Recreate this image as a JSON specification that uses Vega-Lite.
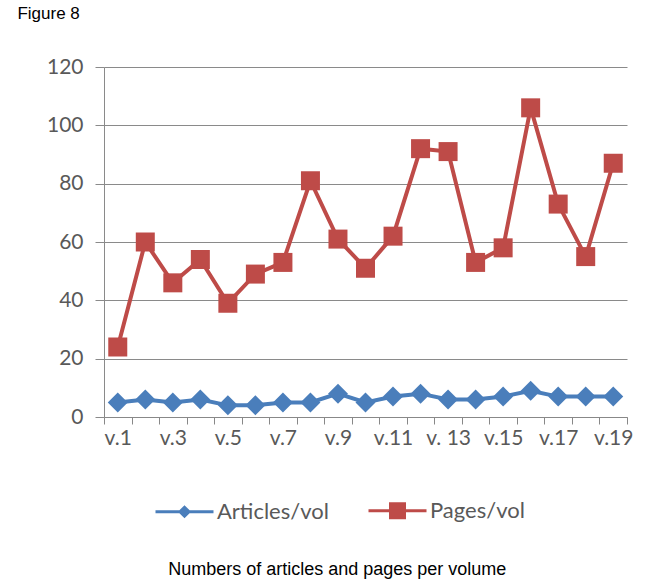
{
  "$schema": "https://vega.github.io/schema/vega-lite/v6.json",
  "padding": {"left": 17, "top": 5, "right": 5, "bottom": 5},
  "background": "white",
  "config": {"view": {"stroke": null}},
  "title": {"text": "Numbers of articles and pages per volume", "orient": "bottom", "anchor": "middle", "frame": "bounds", "font": "Liberation Sans", "fontSize": 18, "fontWeight": "normal", "color": "black", "offset": 37, "dx": 12},
  "data": {"values": [
    {"vol": "v.1", "series": "Articles/vol", "value": 5},
    {"vol": "v.2", "series": "Articles/vol", "value": 6},
    {"vol": "v.3", "series": "Articles/vol", "value": 5},
    {"vol": "v.4", "series": "Articles/vol", "value": 6},
    {"vol": "v.5", "series": "Articles/vol", "value": 4},
    {"vol": "v.6", "series": "Articles/vol", "value": 4},
    {"vol": "v.7", "series": "Articles/vol", "value": 5},
    {"vol": "v.8", "series": "Articles/vol", "value": 5},
    {"vol": "v.9", "series": "Articles/vol", "value": 8},
    {"vol": "v.10", "series": "Articles/vol", "value": 5},
    {"vol": "v.11", "series": "Articles/vol", "value": 7},
    {"vol": "v.12", "series": "Articles/vol", "value": 8},
    {"vol": "v. 13", "series": "Articles/vol", "value": 6},
    {"vol": "v.14", "series": "Articles/vol", "value": 6},
    {"vol": "v.15", "series": "Articles/vol", "value": 7},
    {"vol": "v.16", "series": "Articles/vol", "value": 9},
    {"vol": "v.17", "series": "Articles/vol", "value": 7},
    {"vol": "v.18", "series": "Articles/vol", "value": 7},
    {"vol": "v.19", "series": "Articles/vol", "value": 7},
    {"vol": "v.1", "series": "Pages/vol", "value": 24},
    {"vol": "v.2", "series": "Pages/vol", "value": 60},
    {"vol": "v.3", "series": "Pages/vol", "value": 46},
    {"vol": "v.4", "series": "Pages/vol", "value": 54},
    {"vol": "v.5", "series": "Pages/vol", "value": 39},
    {"vol": "v.6", "series": "Pages/vol", "value": 49},
    {"vol": "v.7", "series": "Pages/vol", "value": 53},
    {"vol": "v.8", "series": "Pages/vol", "value": 81},
    {"vol": "v.9", "series": "Pages/vol", "value": 61},
    {"vol": "v.10", "series": "Pages/vol", "value": 51},
    {"vol": "v.11", "series": "Pages/vol", "value": 62},
    {"vol": "v.12", "series": "Pages/vol", "value": 92},
    {"vol": "v. 13", "series": "Pages/vol", "value": 91},
    {"vol": "v.14", "series": "Pages/vol", "value": 53},
    {"vol": "v.15", "series": "Pages/vol", "value": 58},
    {"vol": "v.16", "series": "Pages/vol", "value": 106},
    {"vol": "v.17", "series": "Pages/vol", "value": 73},
    {"vol": "v.18", "series": "Pages/vol", "value": 55},
    {"vol": "v.19", "series": "Pages/vol", "value": 87}
  ]},
  "vconcat": [
    {
      "width": 523,
      "height": 350,
      "title": {"text": "Figure 8", "anchor": "start", "frame": "bounds", "font": "Liberation Sans", "fontSize": 17, "fontWeight": "normal", "color": "black", "dx": -29, "offset": 33},
      "encoding": {
        "x": {
          "field": "vol", "type": "ordinal", "sort": null,
          "scale": {"type": "band", "paddingInner": 0, "paddingOuter": 0},
          "axis": {
            "title": null, "labelAngle": 0, "tickBand": "extent", "grid": false,
            "labelExpr": "indexof(['v.1','v.3','v.5','v.7','v.9','v.11','v. 13','v.15','v.17','v.19'], datum.value) >= 0 ? datum.label : ''",
            "labelOverlap": false, "labelFont": "Lato", "labelFontSize": 21, "labelColor": "#595959",
            "labelPadding": 3, "domainColor": "#888888", "tickColor": "#888888", "tickSize": 7
          }
        },
        "y": {
          "field": "value", "type": "quantitative",
          "scale": {"domain": [0, 120], "nice": false},
          "axis": {
            "title": null, "values": [0, 20, 40, 60, 80, 100, 120], "grid": true,
            "gridColor": "#8a8a8a", "domainColor": "#8a8a8a", "tickColor": "#8a8a8a", "tickSize": 9,
            "labelFont": "Lato", "labelFontSize": 21, "labelColor": "#595959", "labelPadding": 12
          }
        },
        "color": {
          "field": "series", "type": "nominal",
          "scale": {"domain": ["Articles/vol", "Pages/vol"], "range": ["#4a7ebb", "#be4b48"]},
          "legend": {
            "title": null, "orient": "none", "direction": "horizontal", "legendX": 69, "legendY": 432,
            "labelFont": "Lato", "labelFontSize": 22, "labelColor": "#595959",
            "symbolSize": 400, "labelOffset": 21, "columnPadding": 33,
            "encode": {
              "symbols": {
                "update": {
                  "shape": {"signal": "datum.value == 'Articles/vol' ? 'M-2.9,0H2.9M-0.45,0L0,-0.45L0.45,0L0,0.45Z' : 'M-2.9,0H2.9M-0.7,-0.7H0.7V0.7H-0.7Z'"},
                  "fill": {"signal": "datum.value == 'Articles/vol' ? '#4a7ebb' : '#be4b48'"},
                  "stroke": {"signal": "datum.value == 'Articles/vol' ? '#4a7ebb' : '#be4b48'"},
                  "strokeWidth": {"value": 3},
                  "opacity": {"value": 1}
                }
              }
            }
          }
        }
      },
      "layer": [
        {"mark": {"type": "line", "strokeWidth": 4}},
        {
          "transform": [{"filter": "datum.series == 'Articles/vol'"}],
          "mark": {"type": "point", "shape": "diamond", "size": 400, "filled": true, "opacity": 1}
        },
        {
          "transform": [{"filter": "datum.series == 'Pages/vol'"}],
          "mark": {"type": "point", "shape": "square", "size": 361, "filled": true, "opacity": 1}
        }
      ]
    }
  ]
}
